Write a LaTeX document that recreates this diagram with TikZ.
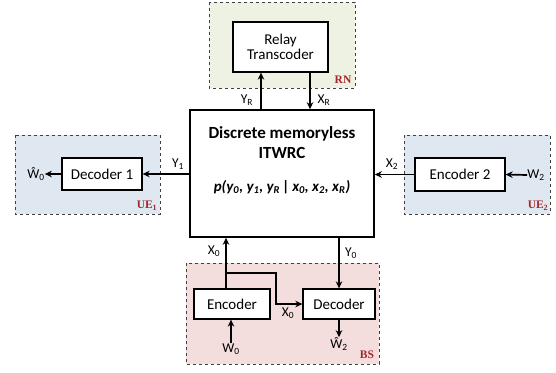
\documentclass[tikz,border=0pt]{standalone}
\usepackage{fontspec}
\setmainfont{Carlito}
\newfontfamily\tagfont{Liberation Serif}
\usetikzlibrary{arrows.meta}
\definecolor{rnfill}{HTML}{EEF2E2}
\definecolor{uefill}{HTML}{DFE7F1}
\definecolor{bsfill}{HTML}{F3DEDD}
\definecolor{tagred}{HTML}{A3262B}
\begin{document}
\begin{tikzpicture}[x=1pt,y=-1pt,
        font=\fontsize{15}{17}\selectfont,
        blk/.style={draw, fill=white, line width=1.3pt, inner sep=0pt},
        zone/.style={draw=black!75, dashed, line width=0.8pt},
        sig/.style={line width=1.7pt, -{Stealth[length=7pt,width=6.5pt]}},
        lbl/.style={inner sep=0pt, font=\fontsize{13.5}{15}\selectfont},
        tag/.style={inner sep=0pt, text=tagred, font=\tagfont\bfseries\fontsize{11.5}{13}\selectfont}]
    \useasboundingbox (0,0) rectangle (556,372);
    % dashed groups
    \draw[zone, fill=rnfill] (209,2) rectangle (355,88);
    \draw[zone, fill=uefill] (15,135) rectangle (160,214);
    \draw[zone, fill=uefill] (404,135) rectangle (550,214);
    \draw[zone, fill=bsfill] (186,263) rectangle (379,364);
    \node[tag] (rn) at (343,80) {RN};
    \node[tag] (ue1) at (147,206) {UE\textsubscript{1}};
    \node[tag] (ue2) at (538,206) {UE\textsubscript{2}};
    \node[tag] (bs) at (367,355) {BS};
    % blocks
    \node[blk, minimum width=95pt, minimum height=50pt, align=center]
        (relay) at (280.5,47) {Relay\\[-2pt]Transcoder};
    \node[blk, line width=1.6pt, minimum width=184pt, minimum height=127pt]
        (main) at (282,173.5) {};
    \node[inner sep=0pt, align=center, font=\bfseries\fontsize{17}{20}\selectfont]
        (title) at (282,143) {Discrete memoryless\\ITWRC};
    \node[inner sep=0pt, font=\bfseries\itshape\fontsize{15}{18}\selectfont] (law) at (282,187)
        {p(y\textsubscript{0}, y\textsubscript{1}, y\textsubscript{R}\,|\,x\textsubscript{0}, x\textsubscript{2}, x\textsubscript{R})};
    \node[blk, minimum width=80pt, minimum height=32pt] (dec1) at (102,174) {Decoder 1};
    \node[blk, minimum width=90pt, minimum height=33pt] (enc2) at (460,174.5) {Encoder 2};
    \node[blk, minimum width=76pt, minimum height=30pt] (enc) at (232,304) {Encoder};
    \node[blk, minimum width=72pt, minimum height=30pt] (dec) at (339,304) {Decoder};
    % outer signals
    \node[lbl] (w0hat) at (36,174) {\^{W}\textsubscript{0}};
    \node[lbl] (w2) at (536,175) {W\textsubscript{2}};
    \node[lbl] (w0) at (231,349) {W\textsubscript{0}};
    \node[lbl] (w2hat) at (339,344) {\^{W}\textsubscript{2}};
    \coordinate (br) at (226,273);
    % connectors
    \draw[sig] (261,0 |- main.north) -- (261,0 |- relay.south);
    \draw[sig] (310,0 |- relay.south) -- (310,0 |- main.north);
    \draw[sig] (main.west |- dec1.east) -- (dec1.east);
    \draw[sig] (dec1.west) -- (w0hat.east);
    \draw[sig] (enc2.west) -- (main.east |- enc2.west);
    \draw[sig] (w2.west) -- (enc2.east);
    \draw[sig] (226,0 |- enc.north) -- (226,0 |- main.south);
    \draw[sig] (br) -| (276,0 |- dec.west) -- (dec.west);
    \draw[sig] (339,0 |- main.south) -- (dec.north);
    \draw[sig] (w0.north) -- (w0.north |- enc.south);
    \draw[sig] (dec.south) -- (w2hat.north);
    % channel labels
    \node[lbl] (yr) at (247,100) {Y\textsubscript{R}};
    \node[lbl] (xr) at (324,100) {X\textsubscript{R}};
    \node[lbl] (y1) at (178,164) {Y\textsubscript{1}};
    \node[lbl] (x2) at (392,164) {X\textsubscript{2}};
    \node[lbl] (x0a) at (214,251) {X\textsubscript{0}};
    \node[lbl] (y0) at (351,253) {Y\textsubscript{0}};
    \node[lbl] (x0b) at (288,313) {X\textsubscript{0}};
\end{tikzpicture}
\end{document}
